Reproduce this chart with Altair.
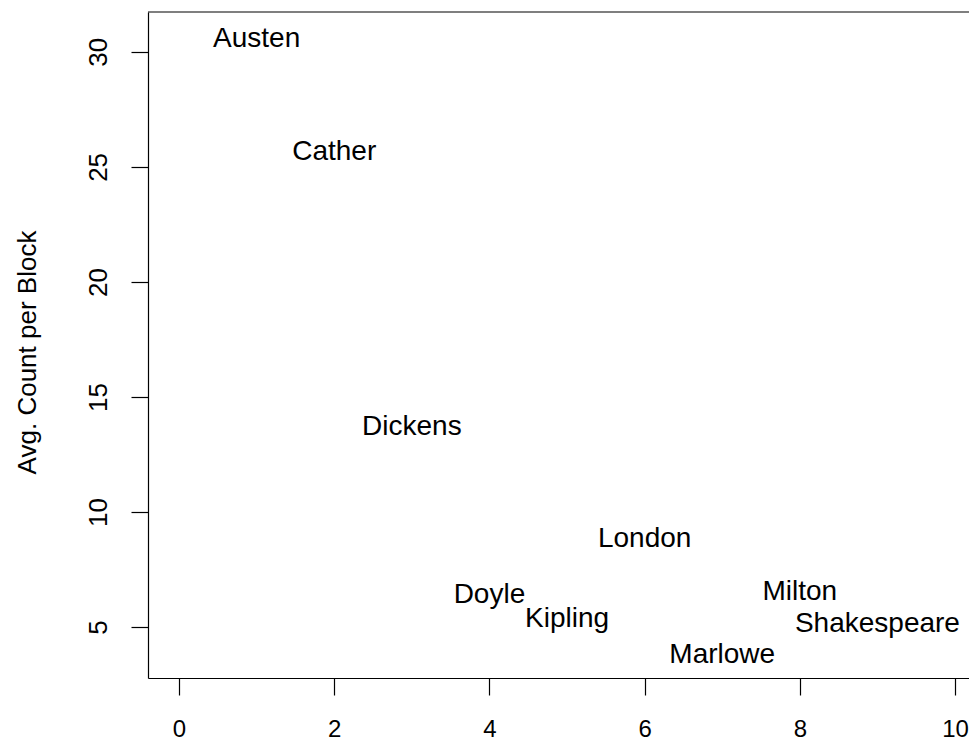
import altair as alt
import pandas as pd

# Data
authors = ["Austen", "Cather", "Dickens", "Doyle", "Kipling",
           "London", "Marlowe", "Milton", "Shakespeare"]
rank = [1, 2, 3, 4, 5, 6, 7, 8, 9]
avg_count = [30.66, 25.75, 13.78, 6.49, 5.44, 8.93, 3.86, 6.62, 5.23]

x_ticks = [0, 2, 4, 6, 8, 10]
y_ticks = [5, 10, 15, 20, 25, 30]

df = pd.DataFrame({"author": authors, "rank": rank, "avg": avg_count})

FONT = "Liberation Sans"
W, H = 821, 666

span = max(avg_count) - min(avg_count)
y_dom = [min(avg_count) - 0.04 * span, max(avg_count) + 0.04 * span]
x_dom = [-0.4, 10.18]

text = alt.Chart(df).mark_text(
    font=FONT, fontSize=28, baseline="alphabetic", align="center",
    dy=10, color="black"
).encode(
    x=alt.X("rank:Q",
            scale=alt.Scale(domain=x_dom, nice=False, zero=False),
            axis=alt.Axis(values=x_ticks, title=None, labelPadding=41,
                          labelBaseline="alphabetic", labelFlush=False,
                          labelOverlap=False, labelFontSize=24)),
    y=alt.Y("avg:Q",
            scale=alt.Scale(domain=y_dom, nice=False, zero=False),
            axis=alt.Axis(values=y_ticks, title="Avg. Count per Block",
                          labelAngle=270, labelAlign="center",
                          labelBaseline="alphabetic", labelPadding=25,
                          labelFlush=False, labelOverlap=False,
                          titleAngle=270, titleBaseline="alphabetic",
                          titleAlign="center", titleX=-113, titleY=340)),
    text="author:N",
)

frame_top = alt.Chart(pd.DataFrame({"k": [0]})).mark_rule(
    color="black", strokeWidth=1.2
).encode(x=alt.value(0), x2=alt.value(W), y=alt.value(0))

chart = alt.layer(text, frame_top).properties(
    width=W, height=H,
    autosize=alt.AutoSizeParams(type="none"),
    padding={"left": 140, "top": 4, "right": 0, "bottom": 64},
    background="white",
).configure_view(stroke=None).configure_axis(
    grid=False,
    domain=True, domainColor="black", domainWidth=1.2,
    ticks=True, tickColor="black", tickWidth=1.2, tickSize=17,
    labelFont=FONT, labelFontSize=26, labelColor="black",
    titleFont=FONT, titleFontSize=26, titleColor="black",
    titleFontWeight="normal",
)

chart.save("out.html", embed_options={"renderer": "svg", "actions": False})
